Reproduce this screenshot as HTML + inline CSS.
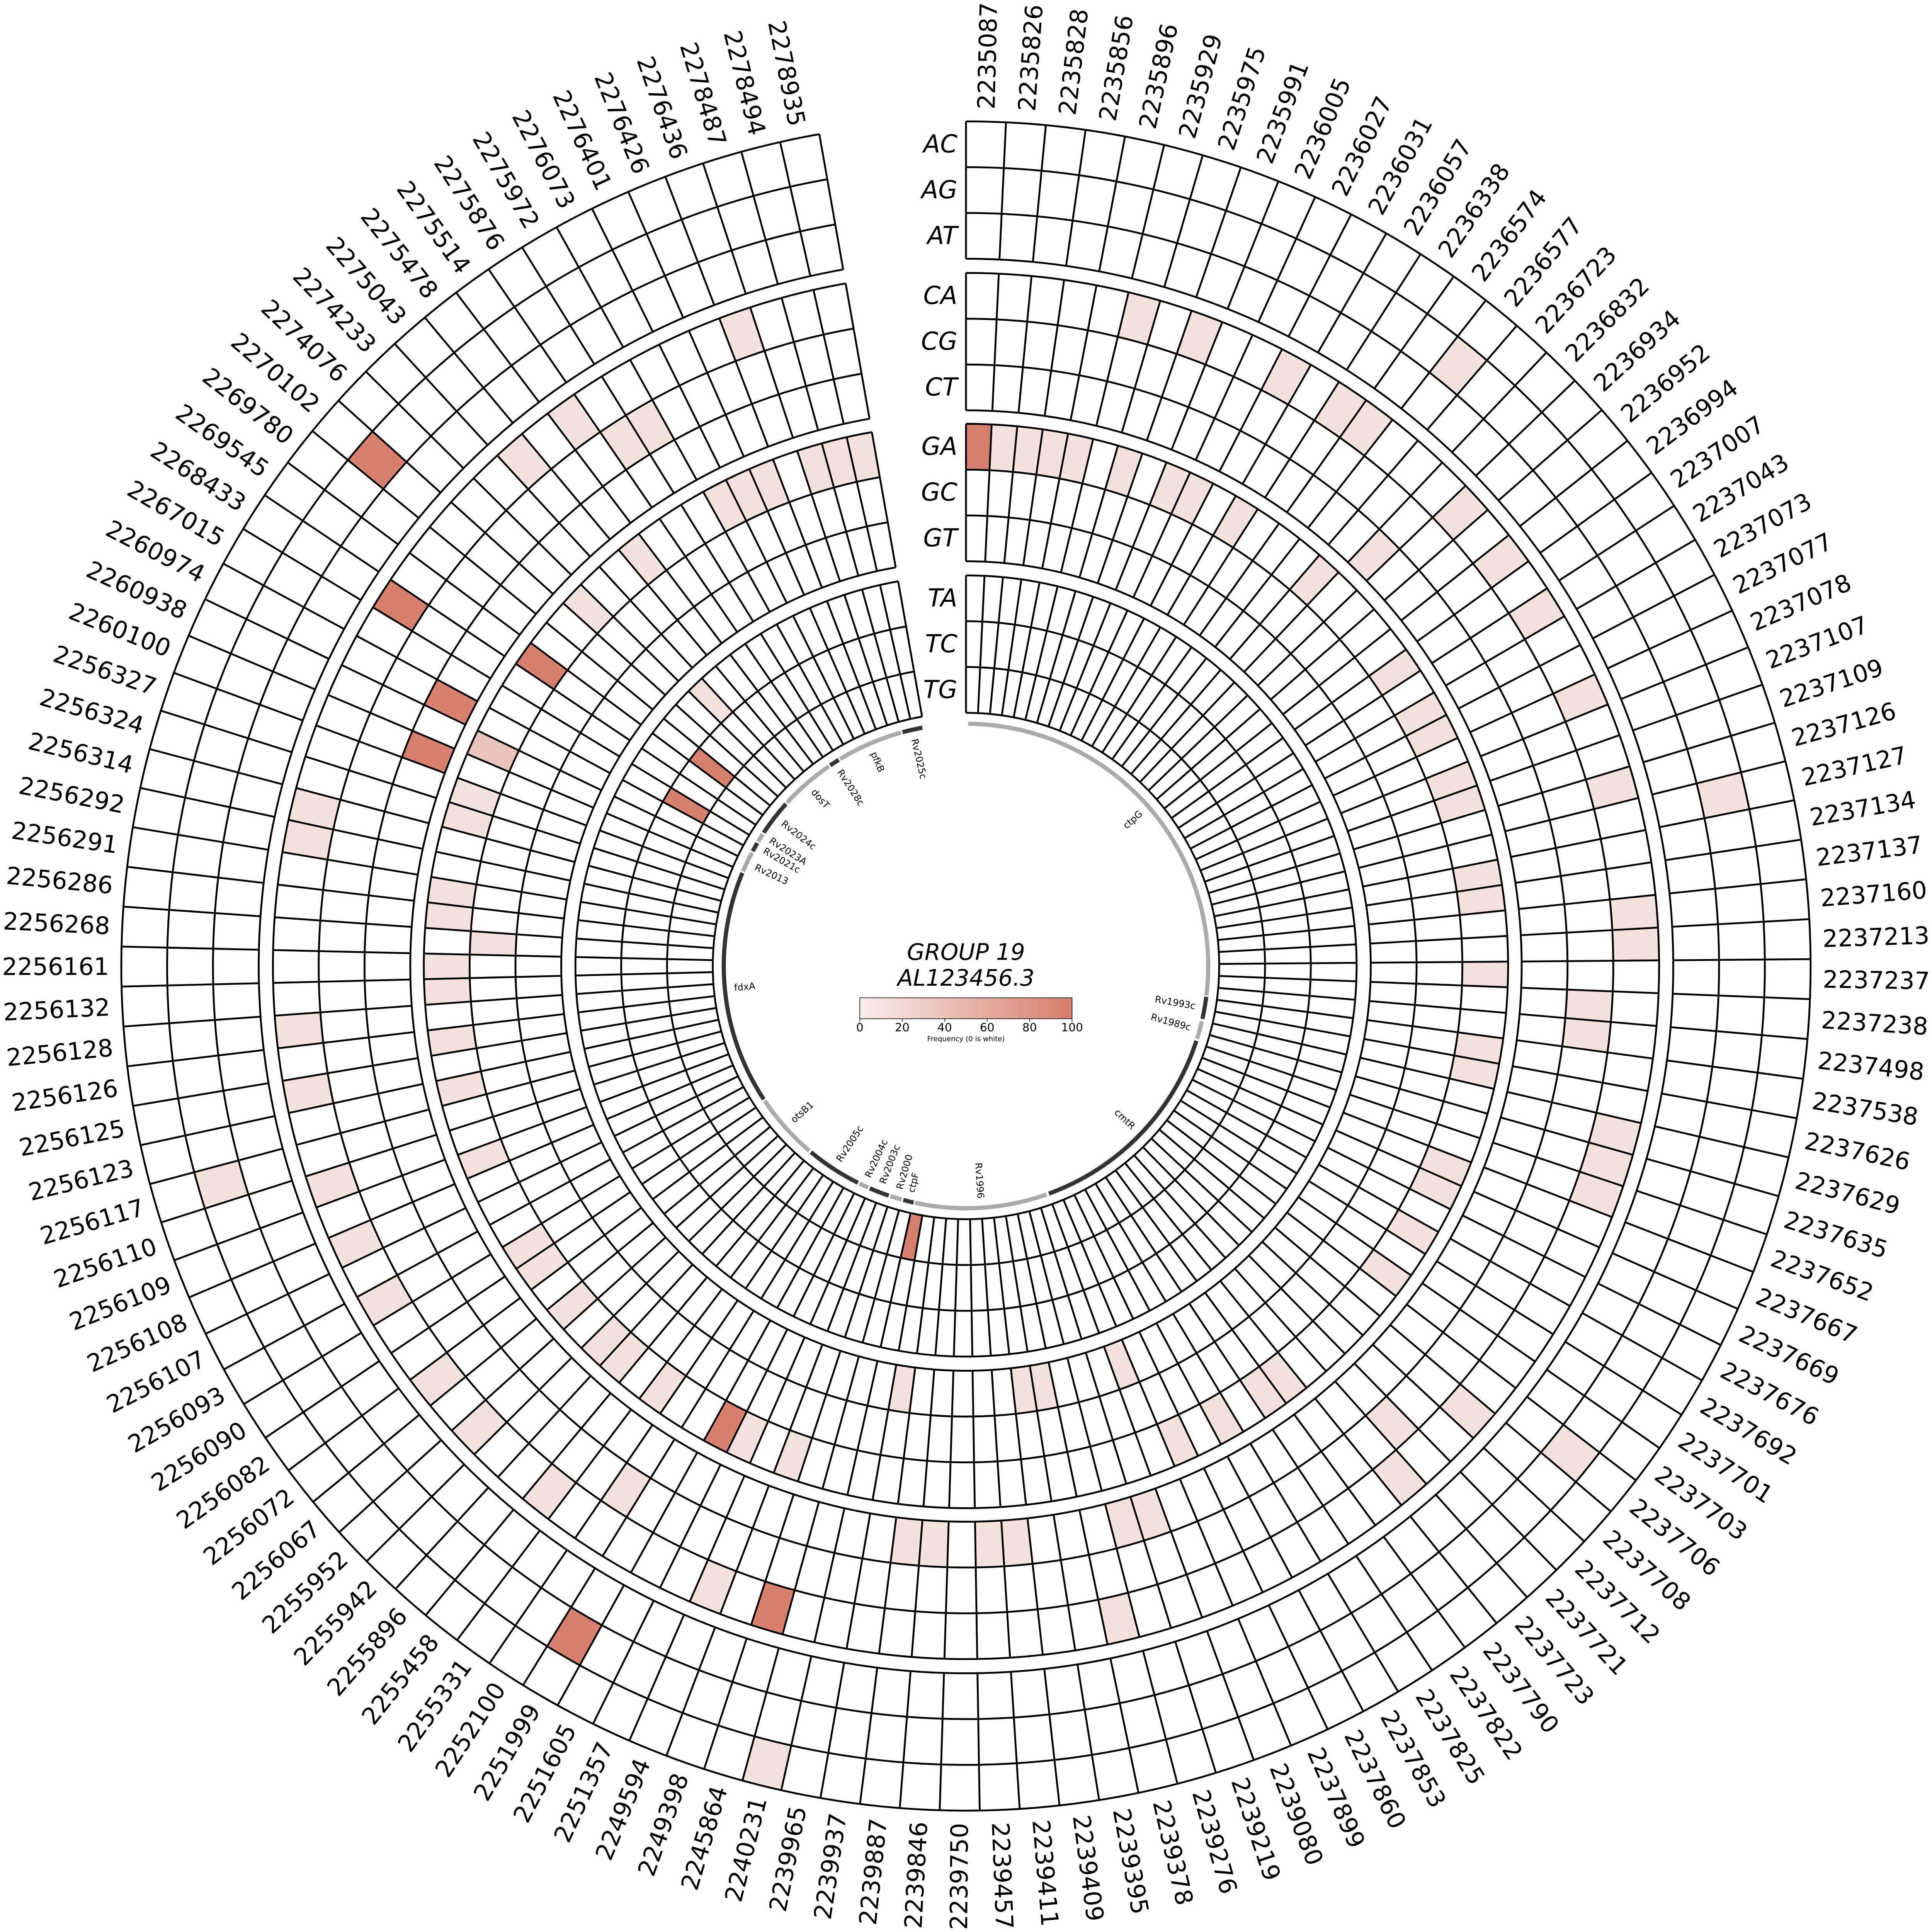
<!DOCTYPE html>
<html><head><meta charset="utf-8">
<style>
html,body{margin:0;padding:0;background:#fff;overflow:hidden;}
svg{display:block;width:100vw;height:100vw;}
text{font-family:"DejaVu Sans","Liberation Sans",sans-serif;fill:#000;}
</style></head>
<body>
<svg id="s" xmlns="http://www.w3.org/2000/svg" viewBox="0 0 1568 1568" preserveAspectRatio="xMinYMin meet">
<defs>
<linearGradient id="cb" x1="0" x2="1" y1="0" y2="0">
<stop offset="0" stop-color="#f9efed"/>
<stop offset="1" stop-color="#d57d6a"/>
</linearGradient>
</defs>
<rect width="1568" height="1568" fill="#fff"/>
<g id="cells"></g>
<g id="genes"></g>
<g id="labels"></g>
<text x="784" y="779" text-anchor="middle" font-size="18.5" font-style="italic">GROUP 19</text>
<text x="784" y="800" text-anchor="middle" font-size="18.5" font-style="italic">AL123456.3</text>
<rect x="697.8" y="809.8" width="172.3" height="17" fill="url(#cb)" stroke="#000" stroke-width="0.5"/>
<g id="cbt"></g>
<text x="784" y="845" text-anchor="middle" font-size="5.7">Frequency (0 is white)</text>
</svg>
<script>
(function(){
var cx=784,cy=784,N=129,span=350,dA=span/N;
var G=[[685.5,574],[562.5,451],[440,328.5],[317,205.5]];
var rows=[];
G.forEach(function(g){var h=(g[0]-g[1])/3;for(var j=0;j<3;j++){rows.push([g[0]-j*h,g[0]-(j+1)*h]);}});
var rowNames=["AC","AG","AT","CA","CG","CT","GA","GC","GT","TA","TC","TG"];
var colNames="2235087 2235826 2235828 2235856 2235896 2235929 2235975 2235991 2236005 2236027 2236031 2236057 2236338 2236574 2236577 2236723 2236832 2236934 2236952 2236994 2237007 2237043 2237073 2237077 2237078 2237107 2237109 2237126 2237127 2237134 2237137 2237160 2237213 2237237 2237238 2237498 2237538 2237626 2237629 2237635 2237652 2237667 2237669 2237676 2237692 2237701 2237703 2237706 2237708 2237712 2237721 2237723 2237790 2237822 2237825 2237853 2237860 2237899 2239080 2239219 2239276 2239378 2239395 2239409 2239411 2239457 2239750 2239846 2239887 2239937 2239965 2240231 2245864 2249398 2249594 2251357 2251605 2251999 2252100 2255331 2255458 2255896 2255942 2255952 2256067 2256072 2256082 2256090 2256093 2256107 2256108 2256109 2256110 2256117 2256123 2256125 2256126 2256128 2256132 2256161 2256268 2256286 2256291 2256292 2256314 2256324 2256327 2260100 2260938 2260974 2267015 2268433 2269545 2269780 2270102 2274076 2274233 2275043 2275478 2275514 2275876 2275972 2276073 2276401 2276426 2276436 2278487 2278494 2278935".split(" ");
var L="#f3e1de",M="#ebc4bb",D="#d6806d";
var pts={
L:[[924,260],[974,272.5],[1044,302.5],[1084,330],[1109,350],[1184,295],[1191.5,415],[1219,455],[1244,495],[1281.5,565],[1306.5,637.5],[1396.5,645],
[814,362],[834,362],[854,362],[874,370],[911.5,380],[949,395],[969,400],[999,420],[1064,470],[1114,450],[1131.5,545],[1151.5,579],[1161.5,596.5],[1179,634],[1184,652.5],[1199.8,710.7],[1202.3,730.6],[1204.7,790.5],[1325.8,740],[1327.4,766.5],
[1290,815],[1289,838],[1199,849],[1194,869],[1309,919],[1304,939],[1296.5,966.5],[1171.5,944],[1161.5,966.5],[1149,994],[1129,1026.5],[911.5,1106.5],[831.5,1124],[846.5,1124],[1039,1116.5],[1016.5,1134],[991.5,1151.5],[964,1166.5],[1131.5,1156.5],[1136.5,1199],[1189,1144],[1274,1179],[914,1234],[934,1229],[799,1251.5],[824,1251.5],[909,1314],
[242.5,834],[367.5,844],[250,889],[372.5,884],[180,961.5],[270,961.5],[392.5,939],[290,1019],[305,1054],[430,1011.5],[437.5,1029],[462.5,1059],[490,1089],[505,1104],[355,1119],[387.5,1159],[537.5,1126.5],[607.5,1166.5],[642.5,1181.5],[447.5,1209],[507.5,1209],[577.5,1286.5],[620,1431.5],[732.5,1126.5],[740,1251.5],[765,1251.5],
[600,270],[425,372.5],[467.5,340],[507.5,357.5],[525,345],[252.5,650],[250,677.5],[382.5,645],[380,667.5],[365,722],[363.5,742.5],[363,784],[363.5,804],[700,370],[677.5,375],[660,380],[622.5,395],[602.5,402.5],[587.5,415],[520,450],[477.5,492.5],[577.5,570],[400,765]],
M:[[400,610]],
D:[[794,362],[590,1156.5],[627.5,1304],[465,1326.5],[740,1001.5],[306,372.5],[325,490],[365,570],[347.5,610],[440,540],[575,622.5],[555,652.5]]
};
var fill={};var col={L:L,M:M,D:D};
["L","M","D"].forEach(function(k){pts[k].forEach(function(p){
 var dx=p[0]-cx,dy=p[1]-cy,r=Math.sqrt(dx*dx+dy*dy);
 var th=Math.atan2(dx,-dy)*180/Math.PI;if(th<0)th+=360;
 var c=Math.floor(th/dA);if(c>=N)return;
 var best=0,bd=1e9;rows.forEach(function(rr,i){var m=(rr[0]+rr[1])/2,d=Math.abs(r-m);if(d<bd){bd=d;best=i;}});
 fill[best*N+c]=col[k];
});});
function pt(r,a){var t=a*Math.PI/180;return [(cx+r*Math.sin(t)).toFixed(2),(cy-r*Math.cos(t)).toFixed(2)];}
var s="";
for(var i=0;i<rows.length;i++){
 var ro=rows[i][0],ri=rows[i][1];
 for(var c=0;c<N;c++){
  var f=fill[i*N+c];if(!f)continue;
  var a1=c*dA,a2=(c+1)*dA;
  var o1=pt(ro,a1),o2=pt(ro,a2),i2=pt(ri,a2),i1=pt(ri,a1);
  s+='<path d="M'+o1+'A'+ro+' '+ro+' 0 0 1 '+o2+'L'+i2+'A'+ri+' '+ri+' 0 0 0 '+i1+'Z" fill="'+f+'"/>';
 }
}
var g="";
for(var i=0;i<rows.length;i++){
 var ro=rows[i][0],ri=rows[i][1];
 var a=pt(ro,0),b=pt(ro,span);
 g+='<path d="M'+a+'A'+ro+' '+ro+' 0 1 1 '+b+'" fill="none"/>';
 if(i%3==2){var a2=pt(ri,0),b2=pt(ri,span);g+='<path d="M'+a2+'A'+ri+' '+ri+' 0 1 1 '+b2+'" fill="none"/>';}
}
for(var k=0;k<4;k++){
 for(var c=0;c<=N;c++){var p1=pt(G[k][0],c*dA),p2=pt(G[k][1],c*dA);g+='<path d="M'+p1+'L'+p2+'"/>';}
}
document.getElementById("cells").innerHTML=s+'<g stroke="#000" stroke-width="1.5" fill="none">'+g+'</g>';
var genes=[[0.5,97,"L","ctpG"],[97.3,102.6,"D","Rv1993c"],[103.2,107.5,"L","Rv1989c"],[108,160,"D","cmtR"],[160.6,192.2,"L","Rv1996"],[192.5,195,"D","ctpF"],[195.4,198.2,"L","Rv2000"],[198.6,203.4,"D","Rv2003c"],[203.8,206.1,"L","Rv2004c"],[206.5,219.8,"D","Rv2005c"],[220.3,236.2,"L","otsB1"],[236.6,292.6,"D","fdxA"],[293,297.9,"L","Rv2013"],[298.3,300.5,"D","Rv2021c"],[300.9,303,"L","Rv2023A"],[303.4,312,"D","Rv2024c"],[312.4,325.5,"L","dosT"],[325.9,328.3,"D","Rv2028c"],[328.7,344.4,"L","pfkB"],[344.8,349.6,"D","Rv2025c"]];
var gs="",R=196.6;
var labAng={"ctpF":193.6,"Rv2000":196.6,"Rv2013":295.2,"Rv2021c":299.8,"Rv2023A":302.8,"Rv2024c":308};
genes.forEach(function(ge){
 var a=pt(R,ge[0]),b=pt(R,ge[1]);
 gs+='<path d="M'+a+'A'+R+' '+R+' 0 0 1 '+b+'" fill="none" stroke="'+(ge[2]=="D"?"#333":"#aaa")+'" stroke-width="3.4"/>';
 var m=labAng[ge[3]]||(ge[0]+ge[1])/2;
 if(m<180) gs+='<text transform="translate('+cx+','+cy+') rotate('+(m-90).toFixed(2)+')" x="189" y="0" dominant-baseline="central" text-anchor="end" font-size="7.6">'+ge[3]+'</text>';
 else gs+='<text transform="translate('+cx+','+cy+') rotate('+(m+90).toFixed(2)+')" x="-189" y="0" dominant-baseline="central" text-anchor="start" font-size="7.6">'+ge[3]+'</text>';
});
document.getElementById("genes").innerHTML=gs;
var ls="";
for(var c=0;c<N;c++){
 var m=(c+0.5)*dA;
 if(m<180) ls+='<text transform="translate('+cx+','+cy+') rotate('+(m-90).toFixed(3)+')" x="695.5" y="0" dominant-baseline="central" text-anchor="start" font-size="19.5">'+colNames[c]+'</text>';
 else ls+='<text transform="translate('+cx+','+cy+') rotate('+(m+90).toFixed(3)+')" x="-695.5" y="0" dominant-baseline="central" text-anchor="end" font-size="19.5">'+colNames[c]+'</text>';
}
rows.forEach(function(rr,i){
 var y=cy-(rr[0]+rr[1])/2;
 ls+='<text x="777" y="'+y.toFixed(2)+'" dominant-baseline="central" text-anchor="end" font-size="20" font-style="italic">'+rowNames[i]+'</text>';
});
document.getElementById("labels").innerHTML=ls;
var ct="";
for(var k=0;k<=5;k++){var x=697.8+k*172.3/5;ct+='<line x1="'+x+'" x2="'+x+'" y1="826.8" y2="829.3" stroke="#000" stroke-width="0.5"/><text x="'+x+'" y="837" text-anchor="middle" font-size="9.3">'+(k*20)+'</text>';}
document.getElementById("cbt").innerHTML=ct;
})();
</script>
</body></html>
